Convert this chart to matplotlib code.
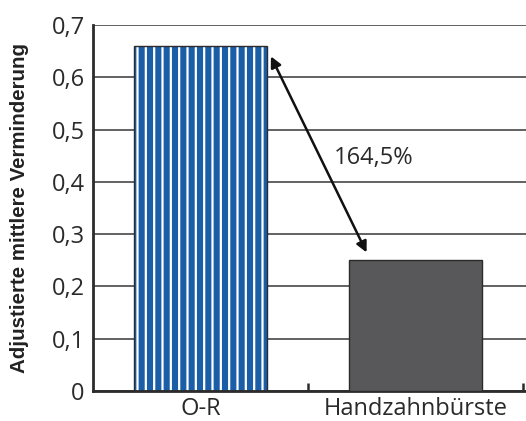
import matplotlib
matplotlib.use("Agg")
import matplotlib.pyplot as plt
from matplotlib.ticker import FixedLocator

# ── Data ──────────────────────────────────────────────────────────────────────
categories = ["O-R", "Handzahnbürste"]
values = [0.66, 0.25]
yticks = [0, 0.1, 0.2, 0.3, 0.4, 0.5, 0.6, 0.7]
ytick_labels = ["0", "0,1", "0,2", "0,3", "0,4", "0,5", "0,6", "0,7"]
ylabel = "Adjustierte mittlere Verminderung"
diff_label = "164,5%"

BLUE = "#1a5ea8"
GREY = "#58585a"
DARK = "#2b2b2b"
FONT = dict(fontfamily="Open Sans", fontweight="normal", fontsize=17, color="#2a2a2a")

plt.rcParams["hatch.linewidth"] = 1.6

fig = plt.figure(figsize=(5.26, 4.21), dpi=100)
ax = fig.add_axes([93 / 526, 1 - 391 / 421, 1 - 93 / 526, (391 - 25) / 421])

x = list(range(len(categories)))
bw = 0.615
ax.bar(x[0], values[0], width=bw, color=BLUE, edgecolor="white", hatch="||",
       linewidth=0, zorder=2)
ax.bar(x[0], values[0], width=bw, fill=False, edgecolor=DARK, linewidth=1.0, zorder=3)
ax.bar(x[1], values[1], width=bw, color=GREY, edgecolor=DARK, linewidth=1.0, zorder=3)

ax.set_xlim(-0.5, 1.5 + 3 / 215)
ax.set_ylim(0, 0.7)
ax.set_yticks(yticks)
ax.set_yticklabels(ytick_labels, **FONT)
ax.set_xticks(x)
ax.set_xticklabels(categories, **FONT)
ax.xaxis.set_minor_locator(FixedLocator([0.5, 1.5]))
ax.tick_params(axis="x", which="major", length=0, pad=4)
ax.tick_params(axis="x", which="minor", direction="in", length=6, width=1.8, color=DARK)
ax.tick_params(axis="y", length=0, pad=6)

ax.set_axisbelow(True)
ax.yaxis.grid(True, color="#555555", linewidth=1.3)

for s in ["top", "right"]:
    ax.spines[s].set_visible(False)
for s in ["left", "bottom"]:
    ax.spines[s].set_color(DARK)
    ax.spines[s].set_linewidth(2)

ax.set_ylabel(ylabel, fontfamily="Liberation Sans", fontweight="bold", fontsize=14.8,
              color="#222222")
ax.yaxis.set_label_coords(-0.148, 0.5)

# double arrow between the bar tops
ax.annotate("", xy=(x[0] + bw / 2 + 0.02, values[0] - 0.02),
            xytext=(x[1] - bw / 2 + 0.08, values[1] + 0.015),
            arrowprops=dict(arrowstyle="<|-|>", color="#111111", lw=1.8,
                            mutation_scale=16, shrinkA=0, shrinkB=0), zorder=5)
ax.text(0.62, 0.446, diff_label, va="center", ha="left", **FONT)

fig.savefig("out.png", dpi=100)
